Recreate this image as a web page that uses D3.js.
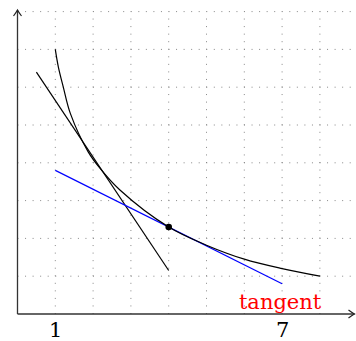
<!DOCTYPE html>
<html>
<head>
<meta charset="utf-8">
<script src="https://cdn.jsdelivr.net/npm/d3@7"></script>
<style>
  body { margin: 0; background: #fff; }
  svg { display: block; }
</style>
</head>
<body>
<div id="chart"></div>
<script>
// curve
var curveX = [1, 1.08, 1.21, 1.4, 1.87, 2.18, 2.71, 4, 5, 6, 7, 8];
var curveY = [7, 6.54, 6.01, 5.3, 4.29, 3.86, 3.28, 2.3, 1.82, 1.45, 1.2, 1.0];

// the two straight lines (end points)
var blackLineX = [0.5, 4];
var blackLineY = [6.4, 1.15];
var blueLineX = [1, 7];
var blueLineY = [3.8, 0.8];

// marked point
var pointX = [4];
var pointY = [2.3];

var xTicks = [1, 7];
var gridX = [1, 2, 3, 4, 5, 6, 7, 8];
var gridY = [1, 2, 3, 4, 5, 6, 7, 8];
var labelText = "tangent";

var width = 356, height = 341;

var x = d3.scaleLinear().domain([0, 9]).range([17.5, 17.5 + 9 * 37.8]);
var y = d3.scaleLinear().domain([0, 8]).range([314, 314 - 8 * 37.8]);

var svg = d3.select("#chart").append("svg")
    .attr("width", width)
    .attr("height", height);

svg.append("defs").append("marker")
    .attr("id", "arrow")
    .attr("viewBox", "-8 -5 10 10")
    .attr("refX", 0).attr("refY", 0)
    .attr("markerWidth", 10).attr("markerHeight", 10)
    .attr("markerUnits", "userSpaceOnUse")
    .attr("orient", "auto")
    .append("path")
    .attr("d", "M-6,-4 Q-2,-1 0,0 Q-2,1 -6,4")
    .attr("fill", "none")
    .attr("stroke", "#222")
    .attr("stroke-width", 1.2);

// dotted grid
var grid = svg.append("g")
    .attr("stroke", "#888")
    .attr("stroke-width", 1)
    .attr("stroke-dasharray", "1,6.55");

grid.selectAll(".gv")
    .data(gridX)
    .enter().append("line")
    .attr("x1", function(d) { return x(d); })
    .attr("x2", function(d) { return x(d); })
    .attr("y1", y(0))
    .attr("y2", y(8));

grid.selectAll(".gh")
    .data(gridY)
    .enter().append("line")
    .attr("x1", x(0))
    .attr("x2", x(9))
    .attr("y1", function(d) { return y(d); })
    .attr("y2", function(d) { return y(d); });

// axes with arrows
svg.append("line")
    .attr("x1", x(0)).attr("y1", y(0))
    .attr("x2", x(0) + 337).attr("y2", y(0))
    .attr("stroke", "#333").attr("stroke-width", 1.3)
    .attr("marker-end", "url(#arrow)");

svg.append("line")
    .attr("x1", x(0)).attr("y1", y(0))
    .attr("x2", x(0)).attr("y2", 10)
    .attr("stroke", "#333").attr("stroke-width", 1.3)
    .attr("marker-end", "url(#arrow)");

var xAxis = svg.append("g")
    .attr("transform", "translate(0," + y(0) + ")")
    .call(d3.axisBottom(x).tickValues(xTicks).tickSize(0).tickPadding(8).tickFormat(d3.format("d")));
xAxis.select(".domain").remove();
xAxis.selectAll("text")
    .attr("fill", "#000")
    .style("font-family", "'DejaVu Serif', serif")
    .style("font-size", "21px");

// tangent lines
var line = d3.line()
    .x(function(d) { return x(d[0]); })
    .y(function(d) { return y(d[1]); });

svg.append("path")
    .datum(d3.zip(blackLineX, blackLineY))
    .attr("d", line)
    .attr("fill", "none")
    .attr("stroke", "#000")
    .attr("stroke-width", 1.2);

svg.append("path")
    .datum(d3.zip(blueLineX, blueLineY))
    .attr("d", line)
    .attr("fill", "none")
    .attr("stroke", "#0000ff")
    .attr("stroke-width", 1.2);

// the curve
svg.append("path")
    .datum(d3.zip(curveX, curveY))
    .attr("d", line.curve(d3.curveCatmullRom.alpha(0.5)))
    .attr("fill", "none")
    .attr("stroke", "#000")
    .attr("stroke-width", 1.2);

svg.selectAll(".pt")
    .data(d3.zip(pointX, pointY))
    .enter().append("circle")
    .attr("cx", function(d) { return x(d[0]); })
    .attr("cy", function(d) { return y(d[1]); })
    .attr("r", 3.3)
    .attr("fill", "#000");

svg.append("text")
    .attr("x", x(7) - 2)
    .attr("y", y(0) - 5.5)
    .attr("text-anchor", "middle")
    .attr("fill", "#ff0000")
    .style("font-family", "'DejaVu Serif', serif")
    .style("font-size", "21px")
    .text(labelText);
</script>
</body>
</html>
